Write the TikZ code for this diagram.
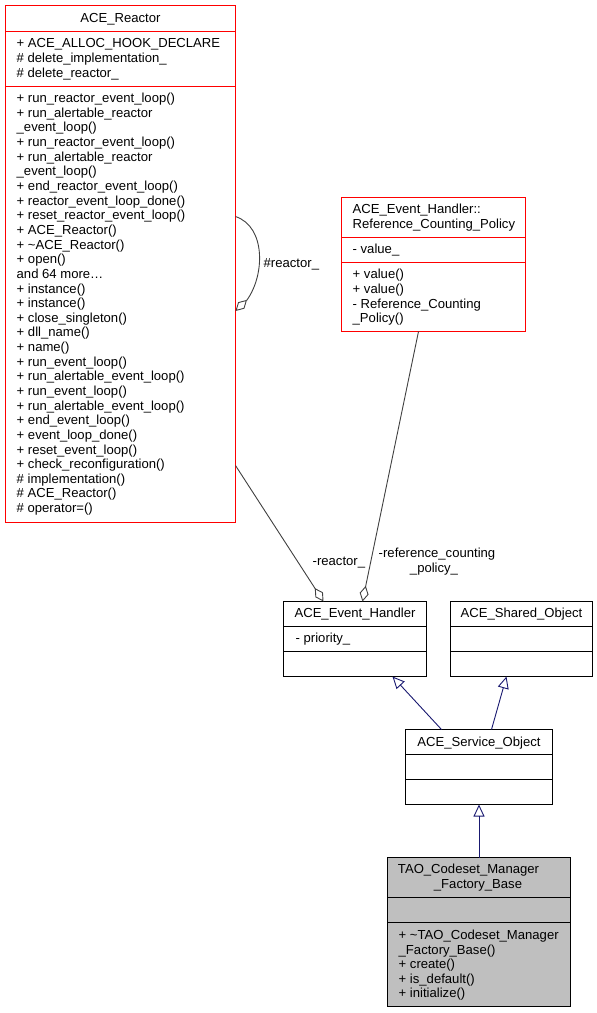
\documentclass[tikz,border=0pt]{standalone}
\usepackage{fontspec}
\setmainfont{Liberation Sans}
\usepackage{tikz}
\usetikzlibrary{arrows.meta,bending}
\definecolor{edgegray}{HTML}{404040}
\definecolor{inhnavy}{HTML}{191970}
\definecolor{basegray}{HTML}{BFBFBF}
\definecolor{clsred}{HTML}{FF0000}
\tikzset{>=stealth}

\begin{document}
\begin{tikzpicture}[x=1pt,y=-1pt,
    cls/.style={inner sep=0pt, outer sep=0pt, anchor=north west},
    member/.style={inner sep=0pt, anchor=base west, font=\fontsize{13.1pt}{14.6pt}\selectfont},
    title/.style={member, anchor=base},
    aggr/.style={draw=edgegray, line width=0.9pt, -{Diamond[open, length=16pt, width=9pt]}},
    inherit/.style={draw=inhnavy, line width=0.9pt, -{Triangle[open, length=12pt, width=11pt]}}]
            \useasboundingbox (0,0) rectangle (597,1013);
            \begin{scope}[xshift=0.5pt, yshift=-0.5pt]

            % Class boxes
            \node[cls, minimum width=230pt, minimum height=517pt] (reactor) at (5,5) {};
            \node[cls, minimum width=184pt, minimum height=134pt] (refpol) at (341,197) {};
            \node[cls, minimum width=143pt, minimum height=75pt] (ehandler) at (283,601) {};
            \node[cls, minimum width=142pt, minimum height=75pt] (shared) at (450,601) {};
            \node[cls, minimum width=147pt, minimum height=75pt] (service) at (405,729) {};
            \node[cls, minimum width=183pt, minimum height=149pt] (tao) at (387,857) {};
            \fill[basegray] (tao.north west) rectangle (tao.south east);

            % Outlines and compartment lines
            \foreach \b in {reactor, refpol}
                \draw[clsred, line width=1.4pt] (\b.north west) rectangle (\b.south east);
            \foreach \b in {ehandler, shared, service, tao}
                \draw[line width=1.2pt] (\b.north west) rectangle (\b.south east);
            \foreach \b/\y in {reactor/31, reactor/86, refpol/237, refpol/262}
                \draw[clsred, line width=1.4pt] (\b.west |- 0,\y) -- (\b.east |- 0,\y);
            \foreach \b/\y in {ehandler/626, ehandler/651, shared/626, shared/651, service/754, service/779, tao/897, tao/922}
                \draw[line width=1.2pt] (\b.west |- 0,\y) -- (\b.east |- 0,\y);

            % ACE_Reactor
            \node[title] (reactorT) at (reactor.north |- 0,22) {ACE\_Reactor};
            \foreach \txt [count=\i from 0] in {+ ACE\_ALLOC\_HOOK\_DECLARE, \# delete\_implementation\_, \# delete\_reactor\_}
                \node[member] (ra\i) at (16,{47.3+14.6*\i}) {\txt};
            \foreach \txt [count=\i from 0] in {+ run\_reactor\_event\_loop(), + run\_alertable\_reactor, \_event\_loop(),
                + run\_reactor\_event\_loop(), + run\_alertable\_reactor, \_event\_loop(), + end\_reactor\_event\_loop(),
                + reactor\_event\_loop\_done(), + reset\_reactor\_event\_loop(), + ACE\_Reactor(), + \textasciitilde{}ACE\_Reactor(),
                + open(), and 64 more\ldots{}, + instance(), + instance(), + close\_singleton(), + dll\_name(), + name(),
                + run\_event\_loop(), + run\_alertable\_event\_loop(), + run\_event\_loop(), + run\_alertable\_event\_loop(),
                + end\_event\_loop(), + event\_loop\_done(), + reset\_event\_loop(), + check\_reconfiguration(),
                \# implementation(), \# ACE\_Reactor(), \# operator=()}
                \node[member] (rm\i) at (16,{102.2+14.64*\i}) {\txt};

            % ACE_Event_Handler::Reference_Counting_Policy
            \node[member] (refpolT1) at (352,213.3) {ACE\_Event\_Handler::};
            \node[member] (refpolT2) at (352,227.9) {Reference\_Counting\_Policy};
            \node[member] (refpolA) at (352,253.3) {- value\_};
            \foreach \txt [count=\i from 0] in {+ value(), + value(), - Reference\_Counting, \_Policy()}
                \node[member] (refpolM\i) at (352,{278.3+14.6*\i}) {\txt};

            % ACE_Event_Handler, ACE_Shared_Object, ACE_Service_Object
            \node[title] (ehandlerT) at (ehandler.north |- 0,617.3) {ACE\_Event\_Handler};
            \node[member] (ehandlerA) at (295,642) {- priority\_};
            \node[title] (sharedT) at (shared.north |- 0,617.3) {ACE\_Shared\_Object};
            \node[title] (serviceT) at (service.north |- 0,745.7) {ACE\_Service\_Object};

            % TAO_Codeset_Manager_Factory_Base
            \node[title] (taoT1) at (468,873.3) {TAO\_Codeset\_Manager};
            \node[title] (taoT2) at (477.5,887.9) {\_Factory\_Base};
            \foreach \txt [count=\i from 0] in {+ \textasciitilde{}TAO\_Codeset\_Manager, \_Factory\_Base(), + create(), + is\_default(), + initialize()}
                \node[member] (taoM\i) at (398,{939.3+14.4*\i}) {\txt};

            % Aggregation edges
            \draw[aggr] ([yshift=47.5pt]reactor.east) .. controls +(36,12) and +(28,-17) .. ([yshift=-47pt]reactor.east);
            \node[member] (lself) at (263,267) {\#reactor\_};
            \draw[aggr] ([yshift=-201.5pt]reactor.east) -- ([xshift=-31.5pt]ehandler.north);
            \node[member] (lreactor) at (312,565) {-reactor\_};
            \draw[aggr] ([xshift=-15pt]refpol.south) -- ([xshift=7.5pt]ehandler.north);
            \node[title] (lrefA) at (436.5,556.7) {-reference\_counting};
            \node[title] (lrefB) at (433.5,571.5) {\_policy\_};

            % Inheritance edges
            \draw[inherit] ([xshift=-37.5pt]service.north) -- ([xshift=37.5pt]ehandler.south);
            \draw[inherit] ([xshift=12.5pt]service.north) -- ([xshift=-15pt]shared.south);
            \draw[inherit] (tao.north) -- (service.south);
            \end{scope}
\end{tikzpicture}
\end{document}
